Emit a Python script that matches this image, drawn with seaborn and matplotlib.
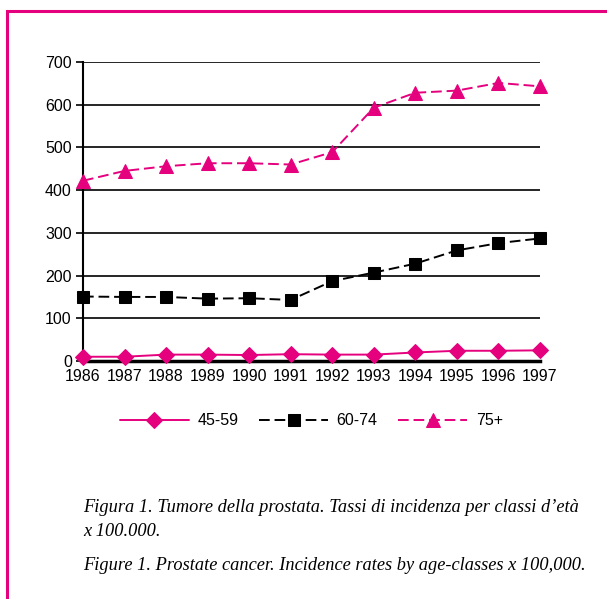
import pandas as pd
import matplotlib.pyplot as plt
import seaborn as sns
from matplotlib.patches import Rectangle

# Incidence rates x 100,000 by age class
years = [1986, 1987, 1988, 1989, 1990, 1991, 1992, 1993, 1994, 1995, 1996, 1997]
rate_45_59 = [10, 10, 15, 15, 14, 16, 15, 15, 20, 24, 24, 25]
rate_60_74 = [151, 150, 150, 146, 147, 143, 187, 207, 228, 259, 276, 287]
rate_75_plus = [422, 445, 456, 463, 463, 460, 489, 593, 628, 633, 651, 643]
y_ticks = [0, 100, 200, 300, 400, 500, 600, 700]

PINK = '#E5007D'

sns.set_theme(style='white')
plt.rcParams['font.family'] = ['Liberation Sans', 'DejaVu Sans']
plt.rcParams['text.color'] = 'black'

fig = plt.figure(figsize=(6.07, 5.99), dpi=100)
ax = fig.add_axes([0.1367, 0.3973, 0.7529, 0.4992])

series = [
    ('45-59', rate_45_59, PINK, 'D', None, 8),
    ('60-74', rate_60_74, 'black', 's', (5.5, 2.5), 9),
    ('75+', rate_75_plus, PINK, '^', (5.5, 2.5), 10),
]
for label, values, color, marker, dash, msize in series:
    df = pd.DataFrame({'year': years, 'rate': values})
    sns.lineplot(data=df, x='year', y='rate', ax=ax, color=color, marker=marker,
                 markersize=msize, markeredgecolor=color, linewidth=1.4,
                 label=label, clip_on=False, zorder=3)
    if dash is not None:
        ax.lines[-1].set_dashes(dash)

ax.set_xlim(1986, 1997)
ax.set_ylim(0, 700)
ax.set_xticks(years)
ax.set_yticks(y_ticks)
ax.tick_params(axis='both', labelsize=11.5, colors='black')
ax.tick_params(axis='y', length=5, width=1.2, direction='out', left=True, pad=3)
ax.tick_params(axis='x', length=0, pad=6)
ax.set_xlabel('')
ax.set_ylabel('')
ax.grid(axis='y', color='black', linewidth=1.2)
ax.grid(axis='x', visible=False)
for side in ['top', 'right']:
    ax.spines[side].set_visible(False)
ax.spines['left'].set_color('black')
ax.spines['left'].set_linewidth(1.5)
ax.spines['bottom'].set_color('black')
ax.spines['bottom'].set_linewidth(2.5)
ax.set_axisbelow(True)

leg = ax.legend(loc='center', bbox_to_anchor=(0.5, -0.2), ncol=3, frameon=False,
                fontsize=11.5, handlelength=4.3, columnspacing=1.3, handletextpad=0.55)
for t in leg.get_texts():
    t.set_color('black')

# captions
cap = dict(family='Liberation Serif', style='italic', fontsize=13.2, color='black')
fig.text(83 / 607, 1 - 508 / 599, "Figura 1. Tumore della prostata. Tassi di incidenza per classi d\u2019et\u00e0",
         va='center', ha='left', **cap)
fig.text(83 / 607, 1 - 531 / 599, 'x 100.000.', va='center', ha='left', **cap)
fig.text(83 / 607, 1 - 565 / 599, 'Figure 1. Prostate cancer. Incidence rates by age-classes x 100,000.',
         va='center', ha='left', **cap)

# magenta frame around the figure
fig.patches.append(Rectangle((7 / 607, -0.05), 1.1, 1 - 11 / 599 + 0.05, transform=fig.transFigure,
                             fill=False, edgecolor=PINK, linewidth=2.2))

plt.savefig('out.png', dpi=100)
plt.close()
